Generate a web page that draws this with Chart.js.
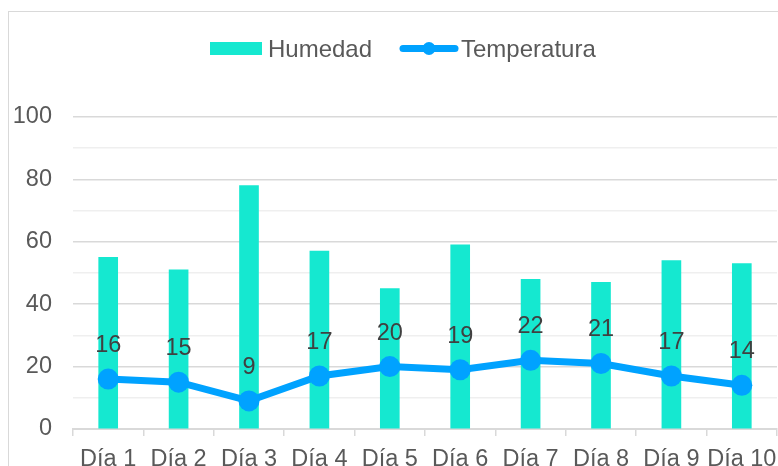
<!DOCTYPE html>
<html>
<head>
<meta charset="utf-8">
<script src="https://cdn.jsdelivr.net/npm/chart.js@4/dist/chart.umd.min.js"></script>
<style>
html,body{margin:0;padding:0;background:#fff;}
#c{display:block;}
</style>
</head>
<body>
<canvas id="c" width="778" height="466" style="width:778px;height:466px"></canvas>
<script>
const categories = ["Día 1","Día 2","Día 3","Día 4","Día 5","Día 6","Día 7","Día 8","Día 9","Día 10"];
const humedad = [55, 51, 78, 57, 45, 59, 48, 47, 54, 53];
const temperatura = [16, 15, 9, 17, 20, 19, 22, 21, 17, 14];
const yTicks = [0, 20, 40, 60, 80, 100];

const FONT = "'Liberation Sans', Arial, sans-serif";
const BAR_COLOR = "#15E8D0";
const LINE_COLOR = "#00A2FF";

const frame = {
  id: 'frame',
  beforeDraw(chart) {
    const ctx = chart.ctx;
    ctx.save();
    ctx.fillStyle = '#fff';
    ctx.fillRect(0, 0, chart.width, chart.height);
    ctx.strokeStyle = '#d9d9d9';
    ctx.lineWidth = 1;
    ctx.strokeRect(8.5, 11.5, chart.width + 20, chart.height + 20);
    ctx.restore();
  }
};

const customLegend = {
  id: 'customLegend',
  afterDraw(chart) {
    const ctx = chart.ctx;
    const ds = chart.data.datasets;
    ctx.save();
    ctx.font = "24px " + FONT;
    ctx.textBaseline = 'alphabetic';
    ctx.fillStyle = ds[0].backgroundColor;
    ctx.fillRect(210, 42, 52, 13);
    ctx.fillStyle = '#595959';
    ctx.fillText(ds[0].label, 268, 57);
    ctx.strokeStyle = ds[1].borderColor;
    ctx.lineWidth = 7;
    ctx.lineCap = 'round';
    ctx.beginPath();
    ctx.moveTo(403, 48.5);
    ctx.lineTo(455, 48.5);
    ctx.stroke();
    ctx.fillStyle = ds[1].borderColor;
    ctx.beginPath();
    ctx.arc(429, 48.5, 6.5, 0, Math.PI * 2);
    ctx.fill();
    ctx.fillStyle = '#595959';
    ctx.fillText(ds[1].label, 461, 57);
    ctx.restore();
  }
};

const pointLabels = {
  id: 'pointLabels',
  afterDatasetsDraw(chart) {
    const ctx = chart.ctx;
    const meta = chart.getDatasetMeta(1);
    const data = chart.data.datasets[1].data;
    ctx.save();
    ctx.font = "23.5px " + FONT;
    ctx.fillStyle = '#404040';
    ctx.textAlign = 'center';
    ctx.textBaseline = 'alphabetic';
    meta.data.forEach((pt, i) => {
      ctx.fillText(String(data[i]), pt.x, pt.y - 27);
    });
    ctx.restore();
  }
};

new Chart(document.getElementById('c'), {
  type: 'bar',
  data: {
    labels: categories,
    datasets: [
      {
        type: 'bar',
        label: 'Humedad',
        data: humedad,
        backgroundColor: BAR_COLOR,
        borderWidth: 0,
        barThickness: 19,
        order: 1
      },
      {
        type: 'line',
        label: 'Temperatura',
        data: temperatura,
        borderColor: LINE_COLOR,
        backgroundColor: LINE_COLOR,
        borderWidth: 7,
        pointRadius: 10.5,
        pointBorderWidth: 0,
        pointBackgroundColor: LINE_COLOR,
        tension: 0,
        fill: false,
        clip: false,
        order: 0
      }
    ]
  },
  options: {
    responsive: false,
    animation: false,
    devicePixelRatio: 1,
    layout: { autoPadding: false, padding: { top: 117, left: 8, right: 1, bottom: 0 } },
    plugins: {
      legend: { display: false },
      tooltip: { enabled: false }
    },
    scales: {
      x: {
        offset: true,
        border: { display: true, color: '#d9d9d9', width: 2 },
        grid: {
          display: true,
          drawOnChartArea: false,
          drawTicks: true,
          tickLength: 7,
          color: '#d9d9d9',
          lineWidth: 1.5,
          offset: true
        },
        ticks: {
          color: '#595959',
          font: { family: FONT, size: 23.5 },
          maxRotation: 0,
          minRotation: 0,
          autoSkip: false,
          padding: 9
        },
        afterFit(scale) {
          scale.height = 37;
          scale.paddingLeft = 0;
          scale.paddingRight = 0;
        }
      },
      y: {
        min: 0,
        max: 100,
        border: { display: false },
        grid: {
          drawTicks: false,
          color: (c) => (c.tick && c.tick.value % 20 === 0) ? '#d9d9d9' : '#efefef',
          lineWidth: 1.5
        },
        ticks: {
          stepSize: 10,
          color: '#595959',
          font: { family: FONT, size: 23.5 },
          padding: 21,
          callback: (v) => yTicks.includes(v) ? String(v) : ''
        },
        afterFit(scale) {
          scale.width = 65;
          scale.paddingTop = 0;
          scale.paddingBottom = 0;
        }
      }
    }
  },
  plugins: [frame, customLegend, pointLabels]
});
</script>
</body>
</html>
